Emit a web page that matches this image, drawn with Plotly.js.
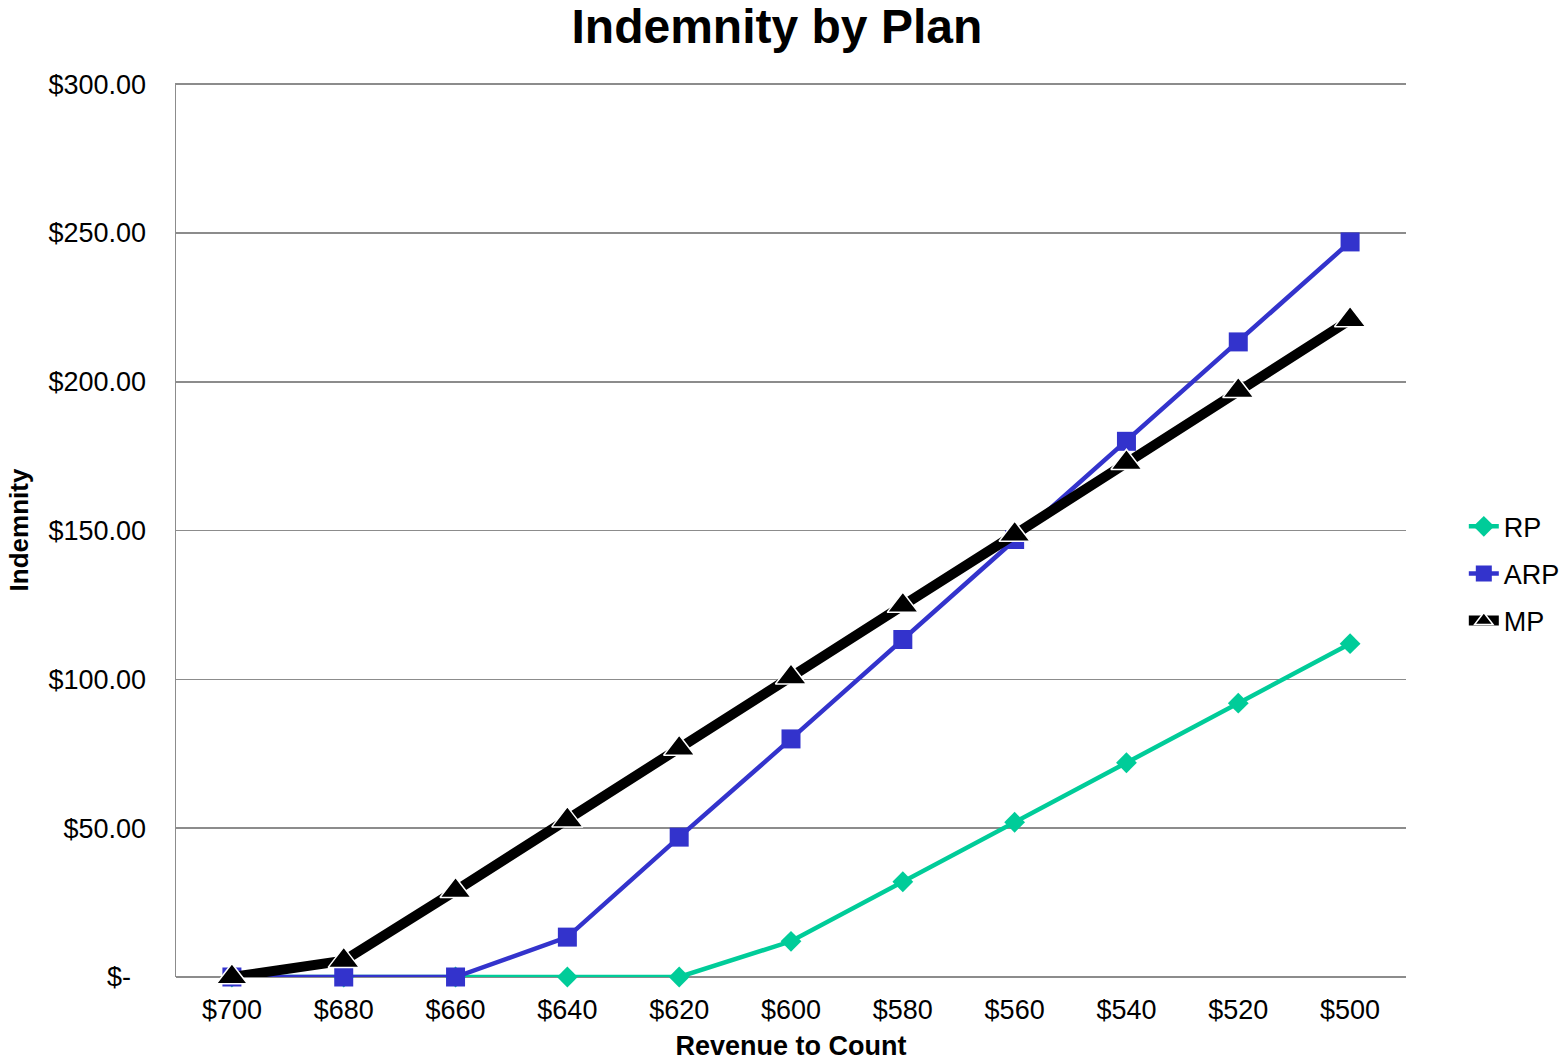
<!DOCTYPE html>
<html>
<head>
<meta charset="utf-8">
<script src="https://cdn.plot.ly/plotly-3.0.1.min.js"></script>
<style>html,body{margin:0;padding:0;background:#fff;}#chart{width:1560px;height:1061px;}</style>
</head>
<body>
<div id="chart"></div>
<script>
const categories = ["$700", "$680", "$660", "$640", "$620", "$600", "$580", "$560", "$540", "$520", "$500"];
const rpValues  = [0, 0, 0, 0, 0, 12, 32, 52, 72, 92, 112];
const arpValues = [0, 0, 0, 13.4, 47, 80, 113.4, 147, 180, 213.4, 247];
const mpValues  = [0, 5.5, 29, 52.7, 76.8, 100.7, 124.8, 148.7, 172.8, 197, 220.8];
const yTickVals = [0, 50, 100, 150, 200, 250, 300];
const yTickText = ["$-\u00a0\u00a0", "$50.00", "$100.00", "$150.00", "$200.00", "$250.00", "$300.00"];

const font = "Liberation Sans, Arial, sans-serif";

const traces = [
  {name: "RP", legendgroup: "g1", x: categories, y: rpValues, type: "scatter", mode: "lines+markers",
   line: {color: "#00CC99", width: 4.5}, marker: {symbol: "diamond", size: 16, color: "#00CC99"}, cliponaxis: false},
  {name: "ARP", legendgroup: "g2", x: categories, y: arpValues, type: "scatter", mode: "lines+markers",
   line: {color: "#3333CC", width: 4.5}, marker: {symbol: "square", size: 19, color: "#3333CC"}, cliponaxis: false},
  {name: "MP", legendgroup: "g3", x: categories, y: mpValues, type: "scatter", mode: "lines+markers",
   line: {color: "#000000", width: 10}, marker: {symbol: "triangle-up", size: 27, color: "#000000", line: {color: "#ffffff", width: 1.5}}, cliponaxis: false}
];

const layout = {
  width: 1560, height: 1061,
  paper_bgcolor: "#ffffff", plot_bgcolor: "#ffffff",
  margin: {l: 176, r: 154, t: 83, b: 84, pad: 0, autoexpand: false},
  font: {family: font, size: 27, color: "#000"},
  title: {text: "<b>Indemnity by Plan</b>", font: {family: font, size: 48, color: "#000"},
          x: 0.498, xanchor: "center", xref: "container", yref: "container", y: 0.975, yanchor: "middle"},
  xaxis: {
    type: "category", range: [-0.5, 10.5], showgrid: false, zeroline: false,
    showline: false, ticks: "", ticklabelstandoff: 14,
    tickfont: {family: font, size: 27, color: "#000"},
    title: {text: "<b>Revenue to Count</b>", font: {family: font, size: 27, color: "#000"}, standoff: 14}
  },
  yaxis: {
    range: [0, 300.4], tickvals: yTickVals, ticktext: yTickText,
    showgrid: true, gridcolor: "#8c8c8c", gridwidth: 1.5,
    zeroline: true, zerolinecolor: "#8c8c8c", zerolinewidth: 1.5,
    showline: true, linecolor: "#8c8c8c", linewidth: 1.5,
    ticks: "", ticklabelstandoff: 23,
    tickfont: {family: font, size: 27, color: "#000"},
    title: {text: "<b>Indemnity</b>", font: {family: font, size: 26, color: "#000"}, standoff: 12}
  },
  legend: {x: 1.047, xanchor: "left", y: 0.451, yanchor: "middle", font: {family: font, size: 27, color: "#000"},
           bgcolor: "rgba(0,0,0,0)", tracegroupgap: 9, itemwidth: 30},
  showlegend: true
};

Plotly.newPlot("chart", traces, layout, {displayModeBar: false, staticPlot: true});
</script>
</body>
</html>
